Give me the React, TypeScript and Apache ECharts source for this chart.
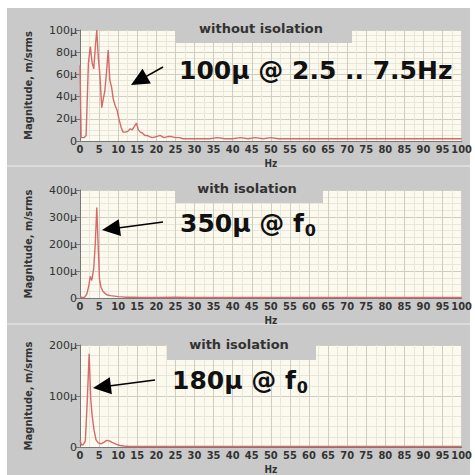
import React, { useEffect, useRef } from 'react';
import * as echarts from 'echarts';

// Panel 1: without isolation (Hz, μ m/s rms)
const freq1 = [0, 0.3, 1.0, 1.6, 2.2, 2.7, 3.2, 3.6, 4.1, 4.4, 4.8, 5.2, 5.7, 6.1, 6.5, 6.9, 7.4, 7.8, 8.3, 8.7, 9.2, 9.7, 10.2, 10.8, 11.3, 12, 12.6, 13.2, 13.7, 14.2, 14.8, 15.3, 15.8, 16.4, 17, 17.6, 18.2, 19, 20, 21, 22, 23, 24, 25, 26, 27, 28, 30, 32, 34, 36, 38, 40, 42, 44, 46, 48, 50, 52, 55, 60, 65, 70, 75, 80, 85, 90, 95, 100];
const mag1 = [68, 3, 3, 5, 70, 85, 70, 65, 88, 100, 75, 60, 30, 38, 45, 60, 82, 55, 48, 38, 32, 28, 20, 12, 8, 8, 9, 11, 10, 13, 16, 10, 8, 7, 5, 5, 4, 3, 4, 5, 3, 4, 4, 3, 3, 2, 2, 2, 2, 2, 3, 2, 2, 3, 2, 3, 2, 3, 2, 2, 2, 2, 2, 2, 2, 2, 2, 2, 2];

// Panel 2: with isolation
const freq2 = [0, 0.5, 1.2, 1.8, 2.3, 2.7, 3.1, 3.6, 4.0, 4.4, 4.8, 5.1, 5.5, 6, 6.5, 7, 8, 9, 10, 11, 12, 14, 16, 20, 25, 30, 40, 50, 60, 70, 80, 90, 100];
const mag2 = [5, 2, 2, 15, 45, 80, 65, 110, 200, 335, 180, 70, 40, 25, 18, 12, 9, 7, 5, 4, 3, 3, 2, 2, 3, 2, 2, 2, 2, 2, 2, 2, 2];

// Panel 3: with isolation
const freq3 = [0, 0.4, 0.9, 1.4, 1.9, 2.4, 2.8, 3.2, 3.7, 4.2, 4.8, 5.5, 6.2, 7, 7.7, 8.4, 9.6, 10.5, 11.5, 13, 15, 20, 30, 40, 50, 60, 70, 80, 90, 100];
const mag3 = [13, 4, 5, 12, 90, 183, 95, 60, 32, 14, 8, 6, 9, 13, 12, 9, 5, 3, 2, 1, 1, 1, 1, 1, 1, 1, 1, 1, 1, 1];

const yMaxes = [100, 400, 200];
const yIntervals = [20, 100, 100];
const yMinorSplits = [4, 4, 5];
const titles = ['without isolation', 'with isolation', 'with isolation'];
const callouts = ['100μ @ 2.5 .. 7.5Hz', '350μ @ f', '180μ @ f'];
const subscripts = ['', '0', '0'];
const yName = 'Magnitude, m/srms';
const xName = 'Hz';

const gridTops = [30, 190, 345];
const gridHeights = [111, 108, 107];
const titleBoxes = [
  { x: 175, y: 8, w: 177, h: 35, cx: 261, cy: 28 },
  { x: 175, y: 168, w: 148, h: 35, cx: 247, cy: 188 },
  { x: 167, y: 326, w: 149, h: 34, cx: 239, cy: 344 },
];
const calloutPos = [
  { x: 179, y: 70 },
  { x: 180, y: 223 },
  { x: 172, y: 380 },
];
const arrows = [
  { tail: [163, 67], tip: [131, 85] },
  { tail: [163, 222], tip: [102, 230] },
  { tail: [155, 380], tip: [93, 388] },
];

function arrowHead(tail: number[], tip: number[], len: number, half: number) {
  const dx = tip[0] - tail[0];
  const dy = tip[1] - tail[1];
  const l = Math.sqrt(dx * dx + dy * dy);
  const ux = dx / l, uy = dy / l;
  const bx = tip[0] - ux * len, by = tip[1] - uy * len;
  const nx = -uy, ny = ux;
  return {
    head: [tip, [bx + nx * half, by + ny * half], [bx - nx * half, by - ny * half]],
    base: [bx + ux * 2, by + uy * 2],
  };
}

const WIDE = "'DejaVu Sans', sans-serif";
const COND = "'DejaVu Sans Condensed', 'DejaVu Sans', sans-serif";

export default function App() {
  const ref = useRef<HTMLDivElement>(null);
  useEffect(() => {
    document.body.style.margin = '0';
    const chart = echarts.init(ref.current!, null, { renderer: 'svg' });
    const series = [
      [freq1, mag1],
      [freq2, mag2],
      [freq3, mag3],
    ];
    const graphic: any[] = [
      { type: 'rect', shape: { x: 0, y: 0, width: 475, height: 8 }, style: { fill: '#fff' }, silent: true },
      { type: 'rect', shape: { x: 0, y: 0, width: 7, height: 475 }, style: { fill: '#fff' }, silent: true },
      { type: 'rect', shape: { x: 470, y: 0, width: 5, height: 475 }, style: { fill: '#fff' }, silent: true },
      { type: 'rect', shape: { x: 7, y: 165, width: 463, height: 2 }, style: { fill: '#dcdcdc' }, silent: true },
      { type: 'rect', shape: { x: 7, y: 323, width: 463, height: 2 }, style: { fill: '#dcdcdc' }, silent: true },
    ];
    titleBoxes.forEach((b, i) => {
      graphic.push({ type: 'rect', z: 50, shape: { x: b.x, y: b.y, width: b.w, height: b.h }, style: { fill: '#c9c9c9' }, silent: true });
      graphic.push({
        type: 'text', z: 51, x: b.cx, y: b.cy,
        style: { text: titles[i], fontSize: 13, fontWeight: 'bold', fontFamily: WIDE, fill: '#333', align: 'center', verticalAlign: 'middle' },
      });
    });
    arrows.forEach((a) => {
      const h = arrowHead(a.tail, a.tip, 18, 8.5);
      graphic.push({ type: 'line', z: 52, shape: { x1: a.tail[0], y1: a.tail[1], x2: h.base[0], y2: h.base[1] }, style: { stroke: '#000', lineWidth: 1.6 } });
      graphic.push({ type: 'polygon', z: 52, shape: { points: h.head }, style: { fill: '#000' } });
    });
    calloutPos.forEach((p, i) => {
      const txt = subscripts[i] ? `{a|${callouts[i]}}{b|${subscripts[i]}}` : `{a|${callouts[i]}}`;
      graphic.push({
        type: 'text', z: 53, x: p.x, y: p.y,
        style: {
          text: txt, align: 'left', verticalAlign: 'middle',
          rich: {
            a: { fontSize: 25, fontWeight: 'bold', fontFamily: WIDE, fill: '#111', color: '#111' },
            b: { fontSize: 16, fontWeight: 'bold', fontFamily: WIDE, fill: '#111', color: '#111', padding: [14, 0, 0, 1] },
          },
        },
      });
    });

    const option: any = {
      animation: false,
      backgroundColor: '#c9c9c9',
      grid: gridTops.map((t, i) => ({
        left: 80, top: t, width: 385, height: gridHeights[i],
        show: true, backgroundColor: '#fcf9ef', borderWidth: 0,
      })),
      xAxis: gridTops.map((_, i) => ({
        type: 'value', gridIndex: i, min: 0, max: 100, interval: 5,
        name: xName, nameLocation: 'middle', nameGap: 17,
        nameTextStyle: { fontSize: 10, color: '#333', fontWeight: 'bold', fontFamily: COND },
        axisLine: { show: true, lineStyle: { color: '#777', width: 1 } },
        axisTick: { show: false },
        axisLabel: { fontSize: 11, color: '#333', fontWeight: 'bold', fontFamily: COND, margin: 3, showMinLabel: true, showMaxLabel: true },
        splitLine: { show: true, lineStyle: { color: '#cfcdc2', width: 1 } },
        minorTick: { show: true, splitNumber: 2, length: 0 },
        minorSplitLine: { show: true, lineStyle: { color: '#e9e6da', width: 1 } },
      })),
      yAxis: gridTops.map((_, i) => ({
        type: 'value', gridIndex: i, min: 0, max: yMaxes[i], interval: yIntervals[i],
        name: yName, nameLocation: 'middle', nameGap: 47,
        nameTextStyle: { fontSize: 10, color: '#333', fontWeight: 'bold', fontFamily: WIDE },
        axisLine: { show: true, lineStyle: { color: '#777', width: 1 } },
        axisTick: { show: true, length: 4, lineStyle: { color: '#777' } },
        axisLabel: { fontSize: 11, color: '#333', fontFamily: WIDE, margin: 3, formatter: (v: number) => (v === 0 ? '0' : `${v}μ`) },
        splitLine: { show: true, lineStyle: { color: '#cfcdc2', width: 1 } },
        minorTick: { show: true, splitNumber: yMinorSplits[i], length: 0 },
        minorSplitLine: { show: true, lineStyle: { color: '#e9e6da', width: 1 } },
      })),
      series: series.map(([f, m], i) => ({
        type: 'line', xAxisIndex: i, yAxisIndex: i,
        data: f.map((x, k) => [x, m[k]]),
        showSymbol: false, symbol: 'none',
        lineStyle: { color: '#d46a6a', width: 1.4 },
      })),
      graphic,
    };
    chart.setOption(option);
    return () => chart.dispose();
  }, []);
  return <div ref={ref} style={{ width: 475, height: 475 }} />;
}
